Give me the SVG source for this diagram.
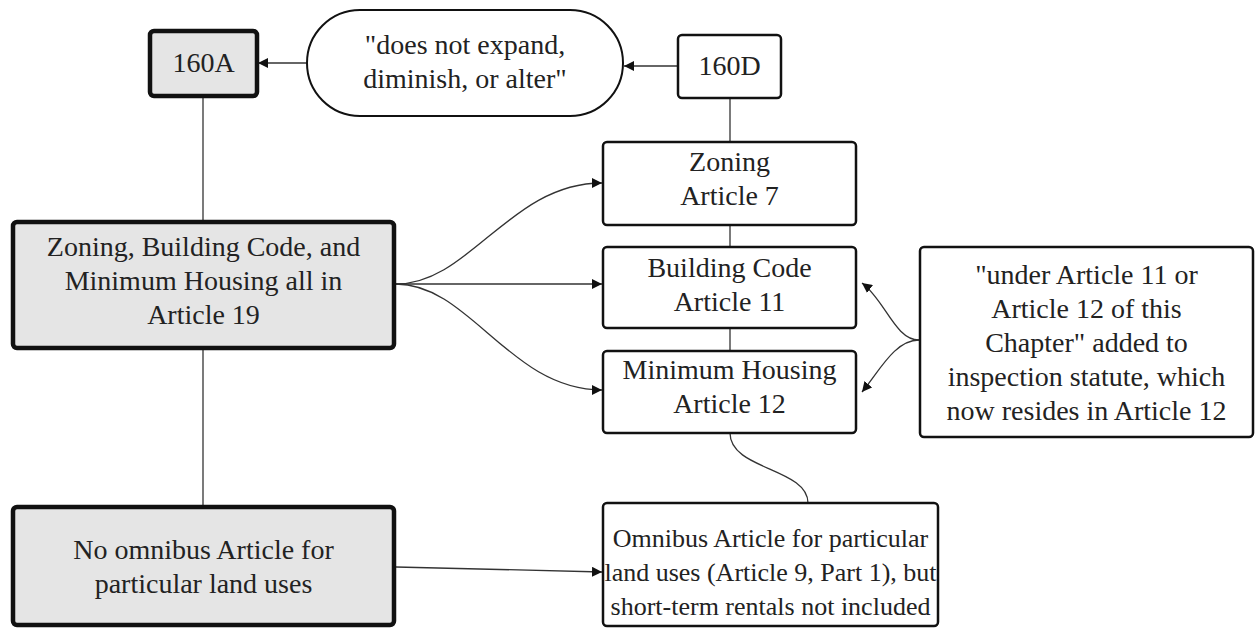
<svg xmlns="http://www.w3.org/2000/svg" width="1256" height="628" viewBox="0 0 1256 628">
<defs>
<marker id="ah" viewBox="0 0 10 10" refX="10" refY="5" markerWidth="10" markerHeight="10" markerUnits="userSpaceOnUse" orient="auto"><path d="M0,0 L10,5 L0,10 z" fill="#111"/></marker>
</defs>
<rect width="1256" height="628" fill="#fff"/>
<g id="connectors" fill="none" stroke="#333" stroke-width="1.3">
<path d="M307,63 L258,63" marker-end="url(#ah)"/>
<path d="M678,66 L624,66" marker-end="url(#ah)"/>
<path d="M730,99 L730,142"/>
<path d="M730,225 L730,247"/>
<path d="M730,328 L730,351"/>
<path d="M203,97 L203,221"/>
<path d="M203,349 L203,506"/>
<path d="M396,284 C470,284 510,183 602,183" marker-end="url(#ah)"/>
<path d="M396,284 L602,284" marker-end="url(#ah)"/>
<path d="M396,284 C470,284 510,390 602,390" marker-end="url(#ah)"/>
<path d="M919,340 C895,340 885,300 862,283" marker-end="url(#ah)"/>
<path d="M919,340 C895,340 880,370 862,392" marker-end="url(#ah)"/>
<path d="M730,433 C730,470 808,468 808,503"/>
<path d="M396,567 L602,572" marker-end="url(#ah)"/>
</g>
<g font-family="Liberation Serif, DejaVu Serif, serif" font-size="28" fill="#222" text-anchor="middle">
<g id="n160A"><rect fill="#e5e5e5" stroke="#111" stroke-width="4.5" x="150" y="31" width="107" height="65" rx="4"/><text font-family="Liberation Serif, serif" x="203.5" y="72">160A</text></g>
<g id="quote"><rect fill="#fff" stroke="#111" stroke-width="2" x="307" y="10" width="316" height="106" rx="53"/><text font-family="Liberation Serif, serif" x="465" y="54">"does not expand,</text><text font-family="Liberation Serif, serif" x="465" y="88">diminish, or alter"</text></g>
<g id="n160D"><rect fill="#fff" stroke="#111" stroke-width="2.5" x="678" y="35" width="103" height="63" rx="4"/><text font-family="Liberation Serif, serif" x="729.5" y="75">160D</text></g>
<g id="zoning"><rect fill="#fff" stroke="#111" stroke-width="2.5" x="603" y="142" width="253" height="83" rx="4"/><text font-family="Liberation Serif, serif" x="729.5" y="171">Zoning</text><text font-family="Liberation Serif, serif" x="729.5" y="205">Article 7</text></g>
<g id="building"><rect fill="#fff" stroke="#111" stroke-width="2.5" x="603" y="247" width="253" height="81" rx="4"/><text font-family="Liberation Serif, serif" x="729.5" y="277">Building Code</text><text font-family="Liberation Serif, serif" x="729.5" y="311">Article 11</text></g>
<g id="housing"><rect fill="#fff" stroke="#111" stroke-width="2.5" x="603" y="351" width="253" height="82" rx="4"/><text font-family="Liberation Serif, serif" x="729.5" y="379">Minimum Housing</text><text font-family="Liberation Serif, serif" x="729.5" y="413">Article 12</text></g>
<g id="note"><rect fill="#fff" stroke="#111" stroke-width="2.5" x="920" y="247" width="333" height="190" rx="4"/><text font-family="Liberation Serif, serif" x="1086.5" y="284">"under Article 11 or</text><text font-family="Liberation Serif, serif" x="1086.5" y="318">Article 12 of this</text><text font-family="Liberation Serif, serif" x="1086.5" y="352">Chapter" added to</text><text font-family="Liberation Serif, serif" x="1086.5" y="386">inspection statute, which</text><text font-family="Liberation Serif, serif" x="1086.5" y="420">now resides in Article 12</text></g>
<g id="art19"><rect fill="#e5e5e5" stroke="#111" stroke-width="4.5" x="13" y="222" width="381" height="126" rx="4"/><text font-family="Liberation Serif, serif" x="203.5" y="256">Zoning, Building Code, and</text><text font-family="Liberation Serif, serif" x="203.5" y="290">Minimum Housing all in</text><text font-family="Liberation Serif, serif" x="203.5" y="324">Article 19</text></g>
<g id="noomnibus"><rect fill="#e5e5e5" stroke="#111" stroke-width="4.5" x="13" y="507" width="381" height="118" rx="4"/><text font-family="Liberation Serif, serif" x="203.5" y="559">No omnibus Article for</text><text font-family="Liberation Serif, serif" x="203.5" y="593">particular land uses</text></g>
<g id="omnibus" font-size="26"><rect fill="#fff" stroke="#111" stroke-width="2.5" x="603" y="503" width="335" height="123" rx="4"/><text font-family="Liberation Serif, serif" x="770.5" y="547">Omnibus Article for particular</text><text font-family="Liberation Serif, serif" x="770.5" y="581">land uses (Article 9, Part 1), but</text><text font-family="Liberation Serif, serif" x="770.5" y="615">short-term rentals not included</text></g>
</g>
</svg>
